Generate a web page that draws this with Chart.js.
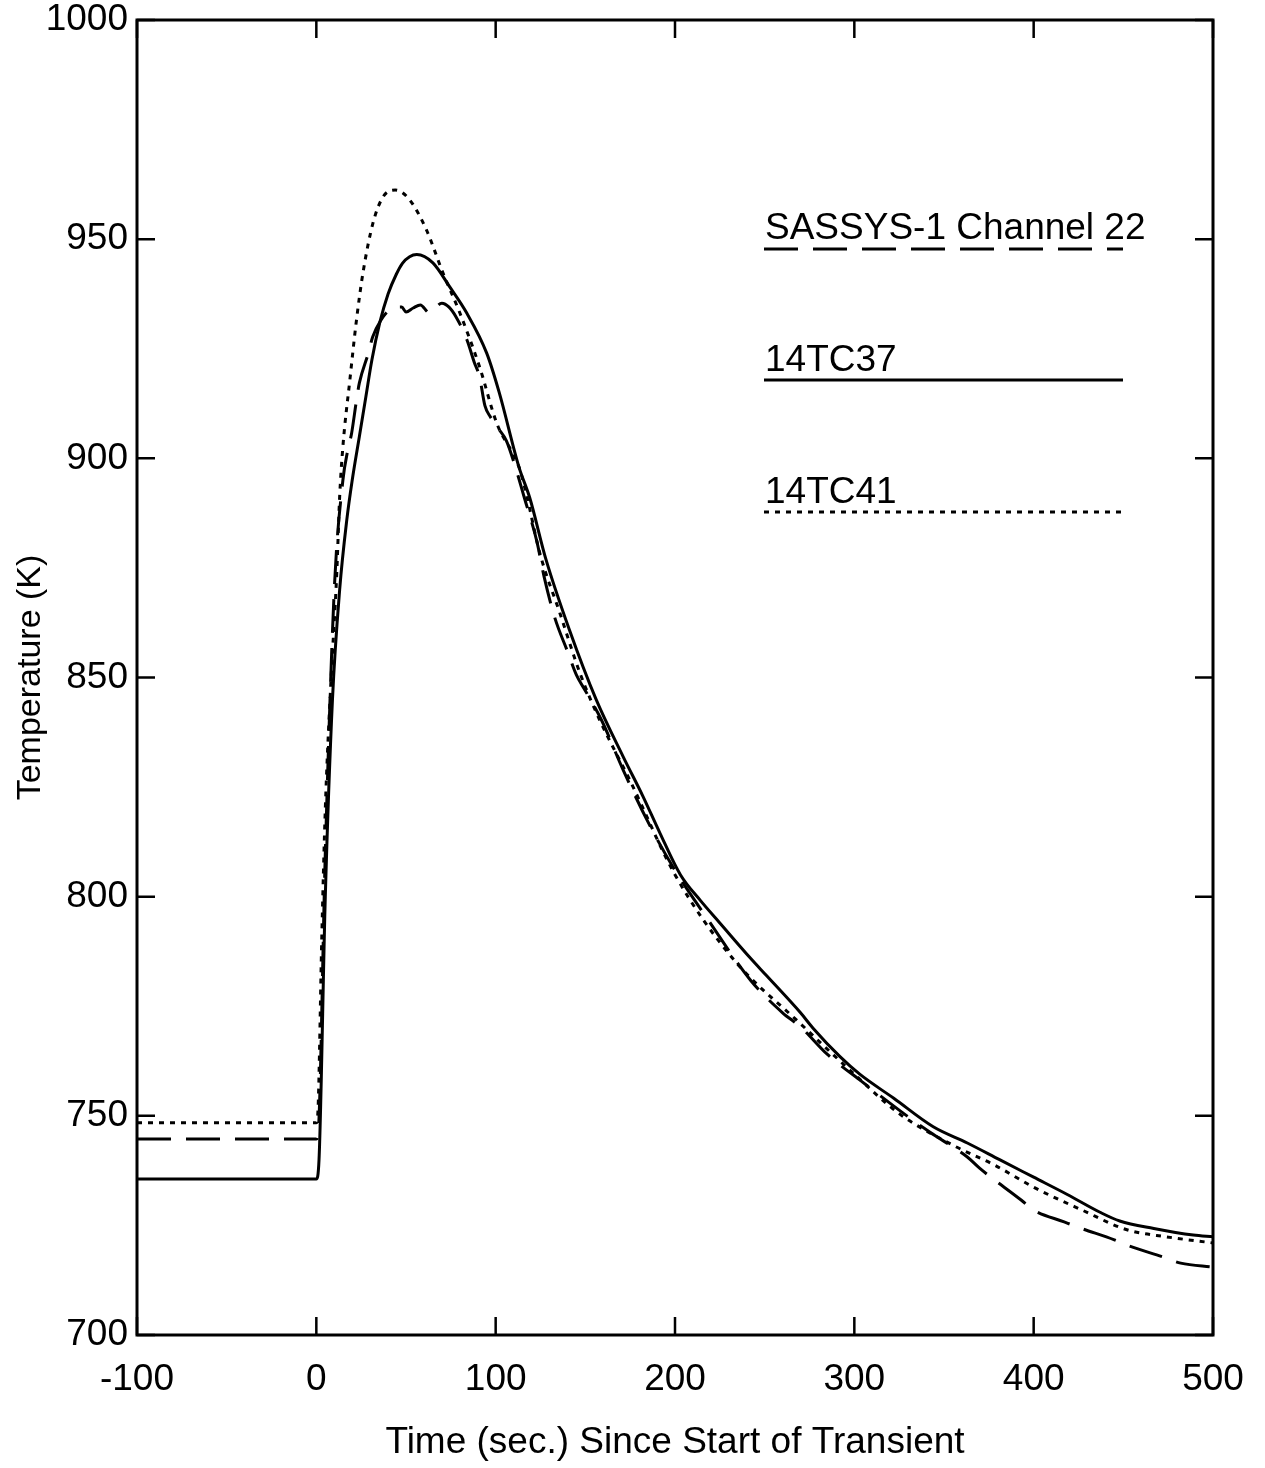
<!DOCTYPE html>
<html>
<head>
<meta charset="utf-8">
<script src="https://cdn.jsdelivr.net/npm/chart.js@4"></script>
<style>
  html, body { margin: 0; padding: 0; background: #fff; }
  #wrap { width: 1265px; height: 1468px; }
</style>
</head>
<body>
<div id="wrap"><canvas id="chart" width="1265" height="1468"></canvas></div>
<script>
// values (time in s, temperature in K)
const sassysTime = [-100, 0, 1, 5, 10, 14.8, 17.6, 19.7, 22.4, 24, 29, 31.4, 36, 41, 47.6, 50, 54, 58, 63, 70, 74, 78, 84, 88, 91, 94, 97, 102, 106, 111, 116, 123, 127, 133, 140, 145, 150, 159, 171, 185, 200, 218, 242, 260, 270, 285, 303, 325, 342, 363, 370, 393, 400, 417, 426, 445, 452, 472, 482, 500];
const sassysTemp = [744.7, 744.7, 746, 810, 870, 895, 902, 905.8, 913.3, 917.2, 924, 927.7, 931.5, 933.9, 934.5, 933.4, 934.3, 935, 933.2, 935.4, 934.5, 932.2, 927, 922, 918.6, 912, 909.5, 906.5, 904, 898, 891, 881, 873, 863.6, 856, 850.6, 847, 840.3, 829, 817, 806, 795, 781, 773.5, 770.3, 764, 758.2, 751.3, 746.3, 740.6, 738, 730.8, 728.5, 725.8, 724.4, 721.7, 720.5, 717.8, 716.4, 715.5];

const tc37Time = [-100, 0, 1.5, 5, 9, 13, 17, 20, 24, 27.6, 31, 35.4, 40, 44.6, 48, 52, 56, 65, 74.4, 83.8, 95, 102, 113, 119, 128, 141, 156, 171, 182, 191.6, 203, 214, 225, 242, 251, 270, 277, 292, 303, 322, 344, 363, 381, 400, 419, 437, 448, 467, 489, 500];
const tc37Temp = [735.6, 735.6, 740, 800, 845, 870, 886, 895, 905, 914, 922.5, 931, 937.5, 942, 944.5, 946, 946.5, 944.6, 939.1, 933.2, 924, 915, 898, 891, 877, 861, 845, 832, 823, 814.5, 805, 799.2, 794, 786, 782, 773.5, 770, 763.5, 759.5, 754, 747.5, 743.8, 740, 736, 732, 728, 726, 724.3, 722.8, 722.4];

const tc41Time = [-100, 0, 1, 3, 5, 8, 11.4, 13, 14.8, 18.7, 22.4, 26, 31.6, 37.3, 44, 52, 61.4, 70.6, 80, 91, 100.6, 113, 117, 124.6, 135.8, 147, 158, 174.8, 200, 232, 270, 300, 325, 355, 378, 401, 427, 452, 474, 500];
const tc41Temp = [748.4, 748.4, 752, 790, 820, 848, 873.9, 891.2, 902.6, 917.9, 931.6, 942.3, 953.7, 959.7, 961.2, 959, 952.1, 942.3, 933.2, 920.9, 908, 898, 892, 878.4, 864.7, 851, 840.3, 826.6, 805, 786, 771, 759.5, 750.5, 743.3, 738.8, 733.5, 728.5, 724, 722.4, 721];

const xTicks = [-100, 0, 100, 200, 300, 400, 500];
const yTicks = [700, 750, 800, 850, 900, 950, 1000];

const seriesNames = ["SASSYS-1 Channel 22", "14TC37", "14TC41"];
const seriesDash = [[34, 15], [], [5, 6]];

const FONT = "'Liberation Sans', Arial, Helvetica, sans-serif";

function toPoints(xs, ys) {
  return xs.map((x, i) => ({ x: x, y: ys[i] }));
}

// box around the plot with inward ticks on all four sides
const frameTicks = {
  id: "frameTicks",
  afterDraw(chart) {
    const { ctx, chartArea: a, scales } = chart;
    const len = 18;
    ctx.save();
    ctx.strokeStyle = "#000";
    ctx.lineWidth = 3;
    ctx.strokeRect(a.left, a.top, a.right - a.left, a.bottom - a.top);
    ctx.lineWidth = 2.5;
    ctx.beginPath();
    xTicks.forEach((v) => {
      const px = scales.x.getPixelForValue(v);
      ctx.moveTo(px, a.bottom); ctx.lineTo(px, a.bottom - len);
      ctx.moveTo(px, a.top); ctx.lineTo(px, a.top + len);
    });
    yTicks.forEach((v) => {
      const py = scales.y.getPixelForValue(v);
      ctx.moveTo(a.left, py); ctx.lineTo(a.left + len, py);
      ctx.moveTo(a.right, py); ctx.lineTo(a.right - len, py);
    });
    ctx.stroke();
    ctx.restore();
  }
};

// legend drawn the way the original has it: label with a line sample beneath
const lineLegend = {
  id: "lineLegend",
  afterDraw(chart) {
    const { ctx, chartArea: a } = chart;
    const x0 = a.left + 627, x1 = a.left + 986;
    const rows = [
      { textY: a.top + 219, lineY: a.top + 229 },
      { textY: a.top + 351, lineY: a.top + 360 },
      { textY: a.top + 483, lineY: a.top + 492 }
    ];
    ctx.save();
    ctx.fillStyle = "#000";
    ctx.strokeStyle = "#000";
    ctx.font = "37px " + FONT;
    ctx.textBaseline = "alphabetic";
    ctx.textAlign = "left";
    rows.forEach((r, i) => {
      ctx.fillText(seriesNames[i], x0 + 1, r.textY);
      ctx.setLineDash(seriesDash[i]);
      ctx.lineWidth = 3;
      ctx.beginPath();
      ctx.moveTo(x0, r.lineY);
      ctx.lineTo(x1, r.lineY);
      ctx.stroke();
    });
    ctx.restore();
  }
};

const datasets = [
  { label: seriesNames[0], data: toPoints(sassysTime, sassysTemp), borderDash: seriesDash[0] },
  { label: seriesNames[1], data: toPoints(tc37Time, tc37Temp), borderDash: seriesDash[1] },
  { label: seriesNames[2], data: toPoints(tc41Time, tc41Temp), borderDash: seriesDash[2] }
].map((d) => Object.assign(d, {
  borderColor: "#000",
  borderWidth: 3,
  pointRadius: 0,
  fill: false,
  cubicInterpolationMode: "monotone"
}));

new Chart(document.getElementById("chart"), {
  type: "line",
  data: { datasets },
  plugins: [frameTicks, lineLegend],
  options: {
    responsive: false,
    animation: false,
    layout: { padding: { top: 20, right: 52, left: 0, bottom: 0 } },
    plugins: { legend: { display: false }, tooltip: { enabled: false } },
    scales: {
      x: {
        type: "linear",
        min: -100,
        max: 500,
        afterBuildTicks: (s) => { s.ticks = xTicks.map((v) => ({ value: v })); },
        afterFit: (s) => { s.height = 133; s.paddingLeft = 0; s.paddingRight = 0; },
        grid: { display: false, drawTicks: false },
        border: { display: false },
        ticks: { color: "#000", font: { family: FONT, size: 37 }, padding: 23, maxRotation: 0, callback: (v) => String(v) },
        title: {
          display: true,
          text: "Time (sec.) Since Start of Transient",
          color: "#000",
          font: { family: FONT, size: 37 },
          padding: { top: 0, bottom: 3 }
        }
      },
      y: {
        type: "linear",
        min: 700,
        max: 1000,
        afterBuildTicks: (s) => { s.ticks = yTicks.map((v) => ({ value: v })); },
        afterFit: (s) => { s.width = 137; s.paddingTop = 0; s.paddingBottom = 0; },
        grid: { display: false, drawTicks: false },
        border: { display: false },
        ticks: { color: "#000", font: { family: FONT, size: 37 }, padding: 9, callback: (v) => String(v) },
        title: {
          display: true,
          text: "Temperature (K)",
          color: "#000",
          font: { family: FONT, size: 34 },
          padding: { top: 10, bottom: 0 }
        }
      }
    }
  }
});
</script>
</body>
</html>
